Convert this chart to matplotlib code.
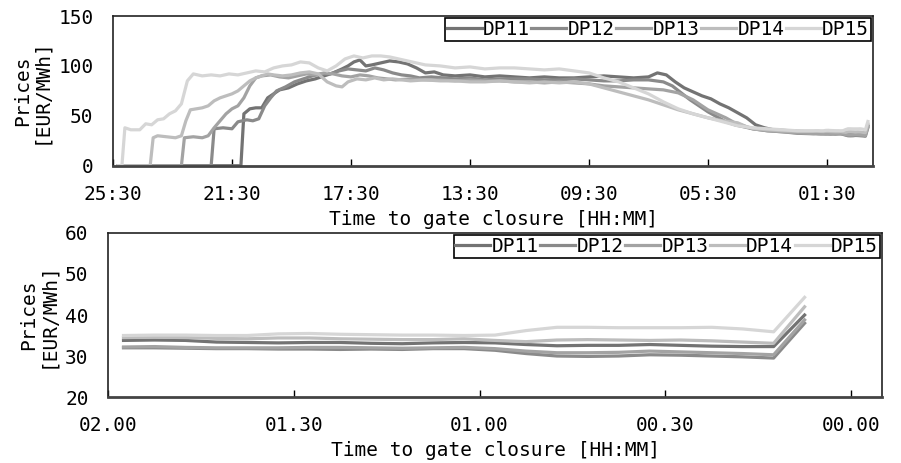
import numpy as np
import matplotlib
matplotlib.use('Agg')
import matplotlib.pyplot as plt

plt.rcParams['font.family'] = ['DejaVu Sans Mono']

# labels
names = ['DP11', 'DP12', 'DP13', 'DP14', 'DP15']
colors = ['#737373', '#8a8a8a', '#a3a3a3', '#bdbdbd', '#d6d6d6']
top_ticks = [25.5, 21.5, 17.5, 13.5, 9.5, 5.5, 1.5]
top_tick_labels = ['25:30', '21:30', '17:30', '13:30', '09:30', '05:30', '01:30']
bot_ticks = [120, 90, 60, 30, 0]
bot_tick_labels = ['02.00', '01.30', '01.00', '00.30', '00.00']

# early part of the trading session (hours to gate closure, price)
dp11_h = [25.33, 21.2, 21.1, 20.9, 20.7, 20.5, 20.3, 20.1, 19.9, 19.6, 19.3, 19.0, 18.7, 18.4,
          18.1, 17.8, 17.6, 17.4, 17.2, 17.0, 16.8, 16.5, 16.2, 15.9, 15.6, 15.3, 15.0, 14.7,
          14.4, 14.0, 13.5, 13.0, 12.5, 12.0, 11.5, 11.0, 10.5, 10.0, 9.5, 9.0, 8.5, 8.0, 7.5,
          7.2, 6.9, 6.6, 6.3, 6.0, 5.7, 5.4, 5.1, 4.8, 4.5, 4.2, 3.9, 3.6, 3.3, 3.0, 2.5]
dp11_p = [0, 0, 52, 57, 58, 58, 68, 72, 76, 78, 82, 85, 87, 90,
          93, 97, 100, 104, 106, 100, 101, 103, 105, 104, 102, 98, 93, 94,
          91, 90, 91, 89, 90, 89, 88, 89, 88, 88, 89, 90, 89, 88, 89,
          93, 91, 84, 78, 74, 70, 67, 62, 58, 53, 48, 41, 38, 36, 35.5, 34.5]

dp12_h = [25.33, 22.2, 22.1, 21.8, 21.5, 21.3, 21.0, 20.8, 20.6, 20.4, 20.2, 20.0, 19.7, 19.4,
          19.1, 18.8, 18.5, 18.2, 17.9, 17.6, 17.3, 17.0, 16.7, 16.4, 16.1, 15.8, 15.5, 15.2,
          14.8, 14.4, 14.0, 13.5, 13.0, 12.5, 12.0, 11.5, 11.0, 10.5, 10.0, 9.5, 9.0, 8.5, 8.0,
          7.5, 7.0, 6.7, 6.4, 6.1, 5.8, 5.5, 5.2, 4.9, 4.6, 4.3, 4.0, 3.5, 3.0, 2.5]
dp12_p = [0, 0, 37, 38, 37, 44, 46, 45, 47, 60, 68, 75, 79, 84,
          87, 90, 92, 92, 95, 97, 96, 95, 98, 96, 93, 91, 90, 88,
          89, 88, 87, 88, 86, 87, 87, 87, 86, 86, 87, 86, 85, 85, 86,
          86, 84, 80, 73, 66, 60, 54, 49, 44, 41, 39, 37, 35, 34, 32.5]

dp13_h = [25.33, 23.2, 23.1, 22.8, 22.5, 22.3, 22.1, 21.9, 21.7, 21.5, 21.3, 21.1, 20.9, 20.7,
          20.5, 20.2, 19.9, 19.6, 19.3, 19.0, 18.7, 18.4, 18.1, 17.8, 17.5, 17.2, 16.9, 16.6,
          16.3, 16.0, 15.5, 15.0, 14.5, 14.0, 13.5, 13.0, 12.5, 12.0, 11.5, 11.0, 10.5, 10.0,
          9.5, 9.0, 8.5, 8.0, 7.5, 7.0, 6.5, 6.0, 5.5, 5.2, 4.9, 4.6, 4.3, 4.0, 3.5, 3.0, 2.5]
dp13_p = [0, 0, 28, 29, 28, 30, 38, 45, 52, 57, 60, 68, 80, 88,
          90, 91, 89, 88, 90, 92, 91, 93, 92, 90, 89, 91, 90, 88,
          87, 86, 87, 86, 86, 85, 86, 85, 85, 84, 84, 83, 84, 83,
          82, 80, 79, 78, 77, 76, 73, 66, 56, 52, 48, 43, 40, 37, 35, 34, 33]

dp14_h = [25.33, 24.25, 24.15, 24.0, 23.7, 23.4, 23.2, 23.05, 22.9, 22.7, 22.5, 22.3, 22.1,
          21.9, 21.7, 21.5, 21.3, 21.1, 20.9, 20.7, 20.5, 20.3, 20.1, 19.8, 19.5, 19.2, 18.9,
          18.6, 18.3, 18.0, 17.8, 17.6, 17.3, 17.0, 16.7, 16.4, 16.1, 15.8, 15.5, 15.0, 14.5,
          14.0, 13.5, 13.0, 12.5, 12.0, 11.5, 11.0, 10.5, 10.0, 9.5, 9.0, 8.5, 8.0, 7.5, 7.0,
          6.5, 6.0, 5.5, 5.0, 4.5, 4.2, 3.9, 3.5, 3.0, 2.5]
dp14_p = [0, 0, 28, 30, 29, 28, 30, 45, 56, 57, 58, 60, 65,
          68, 70, 72, 75, 80, 85, 88, 90, 92, 91, 90, 91, 93, 94,
          92, 84, 80, 79, 84, 87, 86, 88, 86, 87, 86, 85, 86, 85,
          85, 84, 84, 85, 84, 83, 84, 83, 84, 82, 78, 74, 70, 66, 61,
          56, 52, 48, 45, 43, 39, 37, 36, 35, 34.5]

dp15_h = [25.33, 25.2, 25.1, 24.9, 24.6, 24.4, 24.2, 24.0, 23.8, 23.6, 23.4, 23.2, 23.0, 22.8,
          22.5, 22.2, 21.9, 21.6, 21.3, 21.0, 20.7, 20.4, 20.1, 19.8, 19.5, 19.2, 18.9, 18.6,
          18.3, 18.0, 17.7, 17.4, 17.1, 16.8, 16.5, 16.2, 15.9, 15.6, 15.3, 15.0, 14.5, 14.0,
          13.5, 13.0, 12.5, 12.0, 11.5, 11.0, 10.5, 10.0, 9.5, 9.0, 8.5, 8.0, 7.5, 7.0, 6.5,
          6.0, 5.5, 5.0, 4.5, 4.0, 3.5, 3.0, 2.5]
dp15_p = [0, 0, 38, 36, 36, 42, 41, 46, 47, 52, 55, 62, 85, 92,
          90, 91, 90, 92, 91, 93, 95, 94, 98, 100, 101, 104, 103, 98,
          95, 100, 107, 110, 108, 110, 110, 109, 107, 105, 103, 101, 100, 98,
          99, 97, 98, 98, 97, 96, 97, 95, 93, 88, 84, 78, 72, 64, 57,
          52, 48, 44, 40, 38, 37, 36, 35]

# last two hours (minutes to gate closure, price)
last_min = [117.5, 112.5, 107.5, 102.5, 97.5, 92.5, 87.5, 82.5, 77.5, 72.5, 67.5, 62.5,
            57.5, 52.5, 47.5, 42.5, 37.5, 32.5, 27.5, 22.5, 17.5, 12.5, 7.5]
dp11_last = [33.8, 33.9, 33.8, 33.4, 33.3, 33.2, 33.3, 33.3, 33.1, 33.0, 33.2, 33.3,
             33.2, 32.8, 32.5, 32.6, 32.6, 32.8, 32.6, 32.4, 32.3, 32.3, 40.0]
dp12_last = [32.0, 32.0, 31.9, 31.8, 31.8, 31.7, 31.7, 31.6, 31.7, 31.6, 31.8, 31.8,
             31.4, 30.6, 30.0, 29.9, 30.0, 30.3, 30.2, 30.0, 29.8, 29.5, 38.0]
dp13_last = [32.2, 32.3, 32.1, 32.0, 32.0, 32.0, 32.1, 32.1, 32.0, 31.9, 32.0, 32.1,
             31.8, 31.2, 30.8, 30.8, 30.9, 31.2, 31.0, 30.8, 30.6, 30.3, 38.8]
dp14_last = [34.5, 34.6, 34.5, 34.3, 34.2, 34.4, 34.4, 34.2, 34.1, 34.0, 34.0, 34.2,
             33.8, 33.5, 33.9, 34.0, 33.9, 33.8, 33.9, 33.7, 33.4, 33.1, 42.0]
dp15_last = [35.0, 35.1, 35.1, 35.0, 35.0, 35.4, 35.5, 35.3, 35.2, 35.1, 35.1, 35.0,
             35.1, 36.2, 37.0, 37.0, 36.9, 36.9, 36.9, 37.0, 36.6, 35.9, 44.3]

early = [(dp11_h, dp11_p), (dp12_h, dp12_p), (dp13_h, dp13_p), (dp14_h, dp14_p), (dp15_h, dp15_p)]
last = [dp11_last, dp12_last, dp13_last, dp14_last, dp15_last]

fig = plt.figure(figsize=(9.01, 4.63), dpi=100)
ax1 = fig.add_axes([0.1254, 0.6421, 0.8436, 0.3233])
ax2 = fig.add_axes([0.1199, 0.1425, 0.859, 0.3543])

lm = np.array(last_min)
for i in range(5):
    h = list(early[i][0]) + list(lm / 60.0)
    p = list(early[i][1]) + list(last[i])
    ax1.plot(h, p, color=colors[i], lw=2.3, label=names[i])
    ax2.plot(lm, last[i], color=colors[i], lw=2.3, label=names[i])

ax1.set_xlim(25.5, -0.05)
ax1.set_ylim(0, 150)
ax1.set_yticks([0, 50, 100, 150])
ax1.set_xticks(top_ticks)
ax1.set_xticklabels(top_tick_labels)

ax2.set_xlim(120, -5)
ax2.set_ylim(20, 60)
ax2.set_yticks([20, 30, 40, 50, 60])
ax2.set_xticks(bot_ticks)
ax2.set_xticklabels(bot_tick_labels)

fs = 14
for ax in (ax1, ax2):
    ax.set_ylabel('Prices\n[EUR/MWh]', fontsize=fs, labelpad=6, linespacing=0.95)
    ax.set_xlabel('Time to gate closure [HH:MM]', fontsize=fs, labelpad=4)
    ax.tick_params(axis='x', direction='in', length=5, width=1, labelsize=fs, pad=14)
    ax.tick_params(axis='y', length=0, labelsize=fs, pad=14)
    for s in ax.spines.values():
        s.set_color('#222222')
        s.set_linewidth(1.2)
    ax.spines['bottom'].set_color('#444444')
    ax.spines['bottom'].set_linewidth(2)
    leg = ax.legend(loc='upper right', ncol=5, fontsize=fs, handlelength=1.8,
                    handletextpad=0.05, columnspacing=0.1, borderpad=0.1,
                    borderaxespad=0.1, fancybox=False, framealpha=1)
    leg.get_frame().set_edgecolor('black')
    leg.get_frame().set_linewidth(1.2)

fig.savefig('out.png', dpi=100)
